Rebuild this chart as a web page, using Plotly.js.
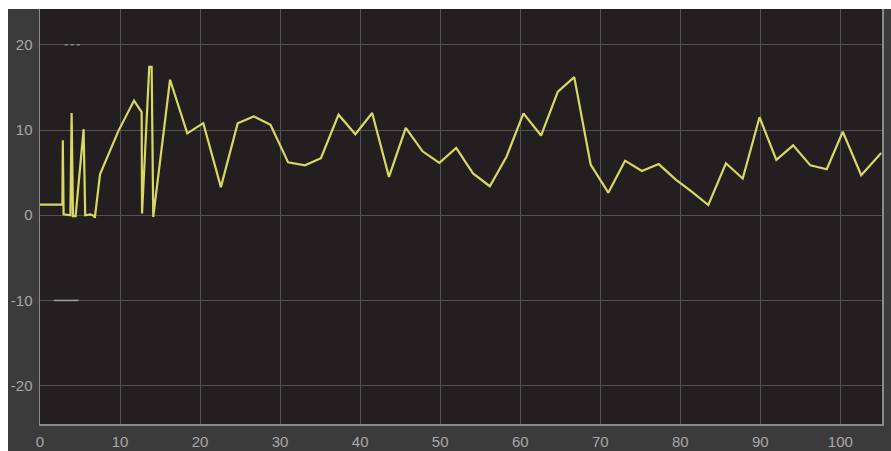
<!DOCTYPE html>
<html>
<head>
<meta charset="utf-8">
<script src="https://cdn.plot.ly/plotly-3.0.1.min.js"></script>
<style>
  html, body { margin: 0; padding: 0; background: #ffffff; width: 891px; height: 451px; overflow: hidden; }
  #chart { position: absolute; left: 8px; top: 9px; width: 883px; height: 442px; }
</style>
</head>
<body>
<div id="chart"></div>
<script>
// Signal samples
const timeS = [0, 2.8, 2.85, 2.95, 3.8, 3.95, 4.12, 4.45, 5.45, 5.65, 6.3, 6.75, 6.85, 7.5, 9.8, 11.75,
  12.7, 12.75, 13.65, 13.95, 14.15, 16.25, 18.4, 20.4, 22.6, 24.7, 26.7, 28.8, 31.0, 33.1, 35.1,
  37.3, 39.4, 41.5, 43.6, 45.7, 47.8, 49.9, 52.0, 54.1, 56.2, 58.3, 60.4, 62.6, 64.7, 66.75,
  68.8, 71.0, 73.1, 75.2, 77.3, 79.4, 81.5, 83.5, 85.7, 87.8, 89.9, 92.0, 94.1, 96.25, 98.3,
  100.3, 102.6, 105.1];
const signal = [1.25, 1.25, 8.8, 0.1, 0.0, 12.0, -0.1, -0.1, 10.1, 0.0, 0.1, -0.1, -0.3, 4.8, 9.9, 13.45,
  12.1, 0.2, 17.4, 17.4, -0.2, 15.9, 9.6, 10.8, 3.3, 10.8, 11.6, 10.6, 6.2, 5.85, 6.7,
  11.8, 9.5, 12.0, 4.5, 10.25, 7.5, 6.15, 7.9, 4.9, 3.4, 6.9, 11.95, 9.35, 14.5, 16.2,
  5.95, 2.65, 6.4, 5.2, 6.0, 4.2, 2.7, 1.2, 6.1, 4.3, 11.5, 6.5, 8.2, 5.85, 5.4,
  9.8, 4.7, 7.3];

// faint marks near the top and at -10
const markTopX = [3.1, 5.0];
const markTopY = [20, 20];
const markLowX = [1.7, 4.8];
const markLowY = [-10, -10];

const xTicks = [0, 10, 20, 30, 40, 50, 60, 70, 80, 90, 100];
const yTicks = [-20, -10, 0, 10, 20];

const traces = [
  { x: markTopX, y: markTopY, mode: 'lines', line: { color: '#8a8a8a', width: 1.5, dash: 'dot' }, hoverinfo: 'skip' },
  { x: markLowX, y: markLowY, mode: 'lines', line: { color: '#a0a0a0', width: 1.5 }, hoverinfo: 'skip' },
  { x: timeS, y: signal, mode: 'lines', line: { color: '#d8d862', width: 2.2 } }
];

const axisFont = { family: 'Liberation Sans, Arial, sans-serif', size: 15, color: '#a8a8a8' };

const layout = {
  width: 883, height: 442,
  margin: { l: 32, r: 9, t: 0, b: 27, pad: 0 },
  paper_bgcolor: '#3b3b3b',
  plot_bgcolor: '#231f20',
  showlegend: false,
  xaxis: {
    range: [0, 105.2], tickvals: xTicks, ticktext: xTicks.map(String),
    showgrid: true, gridcolor: '#525252', gridwidth: 1,
    zeroline: false, showline: true, linecolor: '#8a8a8a', linewidth: 1.5,
    ticks: '', tickfont: axisFont, ticklabelstandoff: 3
  },
  yaxis: {
    range: [-24.5, 24.2], tickvals: yTicks, ticktext: yTicks.map(String),
    showgrid: true, gridcolor: '#525252', gridwidth: 1,
    zeroline: false, showline: true, mirror: true, linecolor: '#8a8a8a', linewidth: 1.5,
    ticks: '', tickfont: axisFont, ticklabelstandoff: 3
  }
};

Plotly.newPlot('chart', traces, layout, { displayModeBar: false, staticPlot: true });
</script>
</body>
</html>
